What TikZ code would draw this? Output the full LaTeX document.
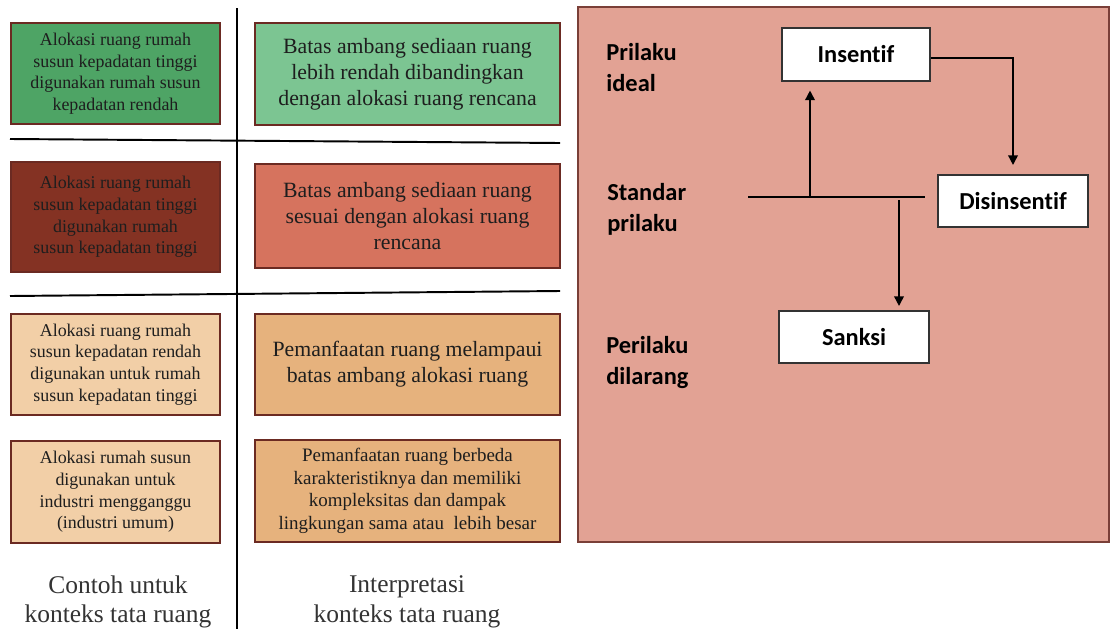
\documentclass[tikz,border=0pt]{standalone}
\usepackage{fontspec}
\setmainfont{Liberation Serif}
\newfontfamily\calibri[Ligatures=NoCommon]{Carlito}
\usepackage{tikz}
\usetikzlibrary{arrows.meta}

\definecolor{garisbata}{HTML}{6B2A22}
\definecolor{hijautua}{HTML}{4EA465}
\definecolor{hijaumuda}{HTML}{7CC592}
\definecolor{merahtua}{HTML}{843223}
\definecolor{merahmuda}{HTML}{D6735E}
\definecolor{krem}{HTML}{F2CFA7}
\definecolor{oranye}{HTML}{E6B27D}
\definecolor{latar}{HTML}{E2A294}
\definecolor{teks}{HTML}{1E1E1E}

\tikzset{
  contoh/.style={draw=garisbata, line width=1.1pt, align=center, inner sep=0pt,
    minimum width=4.18cm, text=teks, font=\fontsize{10.2}{12.3}\selectfont},
  tafsir/.style={draw=garisbata, line width=1.1pt, align=center, inner sep=0pt,
    minimum width=6.1cm, text=teks, font=\fontsize{12.4}{14.7}\selectfont},
  respon/.style={draw=black!80, fill=white, line width=0.9pt, inner sep=0pt,
    minimum width=3cm, minimum height=1.05cm, font=\calibri\bfseries\fontsize{13.9}{17.6}\selectfont},
  tingkat/.style={anchor=north west, align=left, inner sep=0pt,
    font=\calibri\bfseries\fontsize{13.9}{17.6}\selectfont},
  judul/.style={anchor=north, align=center, inner sep=0pt, text=black!80,
    font=\fontsize{14.5}{17}\selectfont},
  panah/.style={-{Triangle[length=5.5pt,width=5.5pt]}, line width=0.9pt}
}

\begin{document}
\begin{tikzpicture}[x=0.02cm, y=-0.02cm]
\useasboundingbox (0,0) rectangle (1111,629);

% garis pemisah
\draw[line width=1.1pt] (237,8) -- (237,629);
\draw[line width=1.1pt] (10,139) -- (560,143);
\draw[line width=1.1pt] (10,296) -- (560,291);

% kolom contoh
\node[contoh, fill=hijautua, minimum height=2.02cm] (contoh1) at (115.5,73.5)
  {Alokasi ruang rumah\\susun kepadatan tinggi\\digunakan rumah susun\\kepadatan rendah};
\node[contoh, fill=merahtua, minimum height=2.2cm] (contoh2) at (115.5,217)
  {Alokasi ruang rumah\\susun kepadatan tinggi\\digunakan rumah\\susun kepadatan tinggi};
\node[contoh, fill=krem, minimum height=2.02cm] (contoh3) at (115.5,364.5)
  {Alokasi ruang rumah\\susun kepadatan rendah\\digunakan untuk rumah\\susun kepadatan tinggi};
\node[contoh, fill=krem, minimum height=2.04cm] (contoh4) at (115.5,492)
  {Alokasi rumah susun\\digunakan untuk\\industri mengganggu\\(industri umum)};

% kolom interpretasi
\node[tafsir, fill=hijaumuda, minimum height=2.04cm] (tafsir1) at (407.5,74)
  {Batas ambang sediaan ruang\\lebih rendah dibandingkan\\dengan alokasi ruang rencana};
\node[tafsir, fill=merahmuda, minimum height=2.08cm] (tafsir2) at (407.5,216)
  {Batas ambang sediaan ruang\\sesuai dengan alokasi ruang\\rencana};
\node[tafsir, fill=oranye, minimum height=2.02cm] (tafsir3) at (407.5,364.5)
  {Pemanfaatan ruang melampaui\\batas ambang alokasi ruang};
\node[tafsir, fill=oranye, minimum height=2.04cm, font=\fontsize{10.8}{12.8}\selectfont] (tafsir4) at (407.5,491)
  {Pemanfaatan ruang berbeda\\karakteristiknya dan memiliki\\kompleksitas dan dampak\\lingkungan sama atau\ \ lebih besar};

\node[judul] (judulA) at (118,575) {Contoh untuk\\konteks tata ruang};
\node[judul] (judulB) at (407,575) {Interpretasi\\konteks tata ruang};

% panel perilaku
\filldraw[fill=latar, draw=garisbata!90, line width=1.1pt] (578,7) rectangle (1109,542);

\node[tingkat] (ideal) at (606,43) {Prilaku\\ideal};
\node[tingkat] (standar) at (607,183) {Standar\\prilaku};
\node[tingkat] (dilarang) at (606,336) {Perilaku\\dilarang};

\node[respon, minimum width=2.96cm] (insentif) at (856,54.5) {Insentif};
\node[respon] (disinsentif) at (1013,201) {Disinsentif};
\node[respon] (sanksi) at (854,337) {Sanksi};

\coordinate (garisA) at (748,197);
\coordinate (garisB) at (925,197);
\coordinate (cabangA) at (810,197);
\coordinate (cabangB) at (899,200);

\draw[line width=0.9pt] (garisA) -- (garisB);
\draw[panah, shorten >=0.18cm] (cabangA) -- (cabangA |- insentif.south);
\draw[panah, shorten >=0.18cm] (insentif.east |- 0,58) -| (disinsentif.north);
\draw[panah, shorten >=0.08cm] (cabangB) -- (cabangB |- sanksi.north);
\end{tikzpicture}
\end{document}
